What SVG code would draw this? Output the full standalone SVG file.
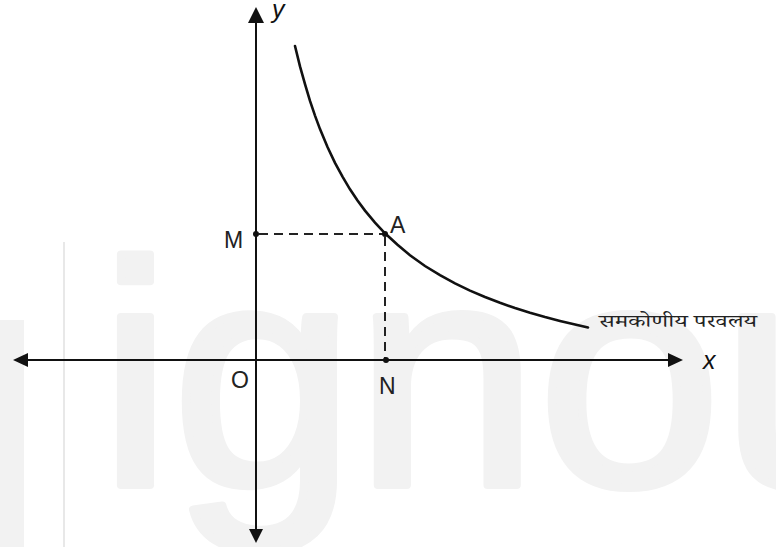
<svg xmlns="http://www.w3.org/2000/svg" width="776" height="547" viewBox="0 0 776 547">
<style>
.wm{fill:#f2f2f2;stroke:#f2f2f2;stroke-width:8;stroke-linejoin:round;font-family:"Liberation Sans",Arial,sans-serif;font-size:318px}
.ax{stroke:#111;stroke-width:2;fill:none}
.ah{fill:#111;stroke:none}
.dash{stroke:#222;stroke-width:2;stroke-dasharray:9 6;fill:none}
.curve{stroke:#111;stroke-width:2.6;fill:none;stroke-linecap:round}
.pt{fill:#111}
.lbl{font-family:"Liberation Sans",Arial,sans-serif;font-size:23px;fill:#222}
.var{font-family:"Liberation Sans",Arial,sans-serif;font-size:25px;font-style:italic;fill:#111}
.hi{font-family:"Noto Serif Devanagari","Noto Sans Devanagari","Lohit Devanagari","FreeSerif",serif;font-size:18px;fill:#222}
</style>
<rect width="776" height="547" fill="#ffffff"/>
<g id="watermark">
<rect x="0" y="320" width="24" height="227" fill="#f2f2f2"/>
<rect x="63" y="242" width="2" height="305" fill="#e8e8e8"/>
<text class="wm" x="99" y="485" textLength="805" lengthAdjust="spacingAndGlyphs">ignou</text>
</g>
<g id="connectors">
<line class="ax" x1="256" y1="22" x2="256" y2="530"/>
<polygon class="ah" points="256,7 248,23 264,23"/>
<polygon class="ah" points="256,543 249,529 263,529"/>
<line class="ax" x1="27" y1="360" x2="669" y2="360"/>
<polygon class="ah" points="13,360 28,353 28,367"/>
<polygon class="ah" points="683,360 668,353 668,367"/>
<line class="dash" x1="259" y1="234" x2="385" y2="234"/>
<line class="dash" x1="385" y1="237" x2="385" y2="360"/>
</g>
<g id="curve">
<path class="curve" d="M295,46 L300,66.4 L305,84.2 L310,100.9 L315,115.6 L320,129.1 L327.5,147 L335,162.8 L342.5,176.6 L350,189.3 L357.5,200.5 L365,210.6 L375,222.6 L385,233.3 L397.5,244.8 L410,255.2 L425,266 L440,275.2 L455,283.4 L470,290.6 L485,297 L500,302.8 L515,308 L530,312.7 L545,317 L560,320.9 L574,324.3 L588,327.4"/>
</g>
<g id="node-O"><text class="lbl" x="231" y="388">O</text></g>
<g id="node-M"><circle class="pt" cx="256" cy="234" r="3"/><text class="lbl" x="224" y="248">M</text></g>
<g id="node-A"><circle class="pt" cx="385" cy="234" r="3"/><text class="lbl" x="390" y="233">A</text></g>
<g id="node-N"><circle class="pt" cx="386" cy="360" r="3"/><text class="lbl" x="379" y="394">N</text></g>
<g id="node-x"><text class="var" x="703" y="369">x</text></g>
<g id="node-y"><text class="var" x="272" y="18">y</text></g>
<g id="node-label"><text class="hi" x="599" y="327" textLength="158" lengthAdjust="spacingAndGlyphs">समकोणीय परवलय</text></g>
</svg>
